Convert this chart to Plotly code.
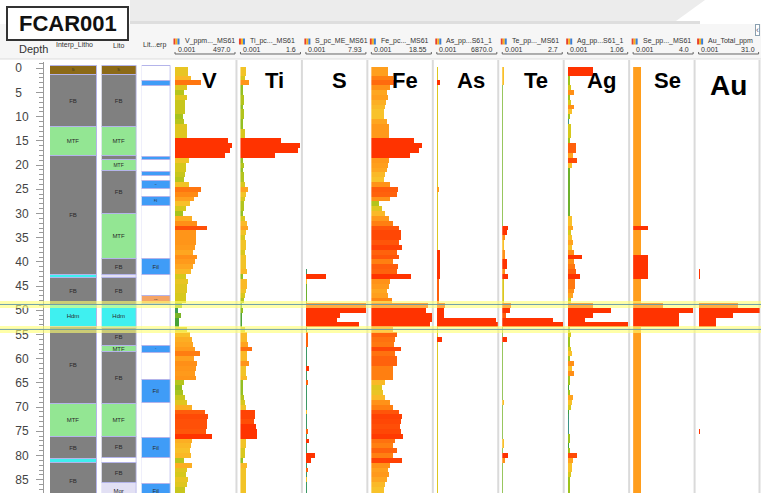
import plotly.graph_objects as go

W, H = 761, 501


def px(x):
    return x / W


def py(y):
    return 1 - y / H


# ---------------- data ----------------
DEPTH_FROM = [
    -0.3, 1.5, 2.5, 3.5, 4.5, 5.5, 6.5, 7.5, 8.5, 9.5,
    10.5, 11.5, 12.5, 13.5, 14.5, 15.5, 16.5, 17.5, 18.5, 19.5,
    20.5, 21.5, 22.5, 23.5, 24.5, 25.5, 26.5, 27.5, 28.5, 29.5,
    30.5, 31.5, 32.5, 33.5, 34.5, 35.5, 36.5, 37.5, 38.5, 39.5,
    40.5, 41.5, 42.5, 43.5, 44.5, 45.5, 46.5, 47.5, 48.5, 49.5,
    50.5, 51.5, 52.5, 53.5, 54.5, 55.5, 56.5, 57.5, 58.5, 59.5,
    60.5, 61.5, 62.5, 63.5, 64.5, 65.5, 66.5, 67.5, 68.5, 69.5,
    70.5, 71.5, 72.5, 73.5, 74.5, 75.5, 76.5, 77.5, 78.5, 79.5,
    80.5, 81.5, 82.5, 83.5, 84.5, 85.5, 86.5, 87.5]
DEPTH_TO = [
    1.5, 2.5, 3.5, 4.5, 5.5, 6.5, 7.5, 8.5, 9.5, 10.5,
    11.5, 12.5, 13.5, 14.5, 15.5, 16.5, 17.5, 18.5, 19.5, 20.5,
    21.5, 22.5, 23.5, 24.5, 25.5, 26.5, 27.5, 28.5, 29.5, 30.5,
    31.5, 32.5, 33.5, 34.5, 35.5, 36.5, 37.5, 38.5, 39.5, 40.5,
    41.5, 42.5, 43.5, 44.5, 45.5, 46.5, 47.5, 48.5, 49.5, 50.5,
    51.5, 52.5, 53.5, 54.5, 55.5, 56.5, 57.5, 58.5, 59.5, 60.5,
    61.5, 62.5, 63.5, 64.5, 65.5, 66.5, 67.5, 68.5, 69.5, 70.5,
    71.5, 72.5, 73.5, 74.5, 75.5, 76.5, 77.5, 78.5, 79.5, 80.5,
    81.5, 82.5, 83.5, 84.5, 85.5, 86.5, 87.5, 88.5]

V_PPM = [
    106, 130, 212, 98, 73, 98, 82, 82, 82, 65,
    73, 98, 98, 98, 432, 465, 448, 408, 114, 90,
    90, 82, 73, 114, 212, 187, 155, 122, 90, 65,
    139, 179, 261, 171, 171, 171, 163, 147, 179, 163,
    147, 130, 90, 106, 98, 98, 90, 90, 57, 24,
    49, 33, 33, 98, 122, 139, 147, 163, 204, 155,
    179, 171, 163, 171, 73, 57, 65, 82, 98, 139,
    245, 269, 261, 261, 253, 302, 139, 130, 122, 130,
    73, 139, 98, 90, 106, 98, 82, 82]
TI_PCT = [
    0.16, 0.13, 0.24, 0.08, 0.08, 0.10, 0.10, 0.08, 0.10, 0.10,
    0.08, 0.08, 0.13, 0.13, 1.07, 1.57, 1.52, 0.92, 0.08, 0.10,
    0.08, 0.10, 0.10, 0.13, 0.21, 0.16, 0.13, 0.10, 0.10, 0.08,
    0.13, 0.18, 0.21, 0.16, 0.13, 0.16, 0.16, 0.13, 0.16, 0.16,
    0.16, 0.18, 0.08, 0.18, 0.18, 0.16, 0.13, 0.10, 0.05, 0.08,
    0.05, 0.05, 0.05, 0.13, 0.18, 0.18, 0.21, 0.31, 0.18, 0.18,
    0.24, 0.16, 0.16, 0.18, 0.08, 0.08, 0.08, 0.10, 0.13, 0.16,
    0.39, 0.39, 0.37, 0.42, 0.45, 0.45, 0.16, 0.16, 0.13, 0.13,
    0.08, 0.18, 0.16, 0.16, 0.16, 0.16, 0.16, 0.16]
S_PCT = [
    0, 0, 0, 0, 0, 0, 0, 0, 0, 0,
    0, 0, 0, 0, 0, 0, 0, 0, 0, 0,
    0, 0, 0, 0, 0, 0, 0, 0, 0, 0,
    0, 0, 0, 0, 0, 0, 0, 0, 0, 0,
    0, 0.02, 2.6, 0.13, 0.05, 0.05, 0.05, 0.05, 7.8, 7.8,
    4.42, 4.03, 6.89, 0.02, 0.26, 0.26, 0.26, 0.02, 0.02, 0.02,
    0.02, 0.39, 0.02, 0.02, 0.26, 0.02, 0.02, 0.02, 0.02, 0.02,
    0.13, 0.02, 0.02, 0.02, 0.26, 0.02, 0.39, 0.02, 0.02, 1.17,
    0.65, 0.02, 0.26, 0.02, 0.13, 0.02, 0.02, 0.02]
FE_PCT = [
    5.2, 6.7, 7.6, 5.8, 4.9, 5.2, 4.6, 4.3, 4.0, 4.0,
    4.9, 5.5, 5.5, 5.5, 13.1, 15.5, 14.6, 11.9, 5.5, 5.2,
    4.9, 4.3, 4.0, 5.8, 8.2, 7.9, 5.8, 2.4, 3.3, 4.3,
    5.5, 6.7, 8.5, 9.1, 9.1, 8.5, 9.4, 7.9, 8.5, 6.7,
    8.2, 7.9, 12.2, 5.8, 5.5, 4.9, 5.2, 6.4, 17.3, 16.7,
    18.5, 18.5, 17.9, 6.7, 7.9, 7.3, 7.0, 9.1, 7.3, 7.9,
    7.9, 6.7, 6.7, 6.7, 4.3, 3.3, 3.6, 4.3, 5.8, 6.7,
    8.5, 9.4, 9.1, 8.8, 9.1, 9.7, 7.3, 6.7, 7.9, 6.7,
    9.4, 5.8, 5.2, 5.5, 4.9, 4.3, 4.0, 4.0]
AS_PPM = [
    90, 90, 338, 90, 90, 90, 90, 90, 90, 90,
    90, 90, 90, 90, 90, 90, 90, 90, 90, 90,
    90, 90, 90, 90, 150, 90, 90, 90, 90, 90,
    90, 90, 90, 90, 90, 90, 90, 338, 338, 338,
    338, 338, 338, 225, 225, 225, 225, 225, 935, 822,
    822, 6680, 6820, 90, 90, 563, 90, 90, 90, 90,
    90, 90, 90, 90, 90, 90, 90, 90, 90, 90,
    90, 90, 90, 90, 90, 90, 90, 90, 90, 90,
    90, 90, 90, 90, 90, 90, 90, 90]
TE_PPM = [
    0.09, 0.09, 0.09, 0.035, 0.035, 0.035, 0.035, 0.035, 0.035, 0.035,
    0.035, 0.035, 0.035, 0.035, 0.035, 0.035, 0.035, 0.035, 0.035, 0.035,
    0.035, 0.035, 0.035, 0.035, 0.035, 0.035, 0.035, 0.035, 0.035, 0.035,
    0.035, 0.035, 0.27, 0.22, 0.13, 0.09, 0.09, 0.13, 0.13, 0.22,
    0.22, 0.13, 0.27, 0.07, 0.07, 0.07, 0.07, 0.07, 0.40, 0.35,
    0.18, 2.26, 2.70, 0.035, 0.035, 0.22, 0.035, 0.035, 0.035, 0.035,
    0.035, 0.035, 0.035, 0.035, 0.035, 0.035, 0.035, 0.035, 0.09, 0.035,
    0.035, 0.035, 0.035, 0.035, 0.035, 0.035, 0.09, 0.09, 0.035, 0.27,
    0.13, 0.035, 0.035, 0.035, 0.035, 0.035, 0.035, 0.035]
AG_PPM = [
    0.43, 0.035, 0.035, 0.052, 0.104, 0.035, 0.052, 0.104, 0.07, 0.035,
    0.005, 0.052, 0.052, 0.052, 0.035, 0.139, 0.139, 0.087, 0.156, 0.07,
    0.026, 0.026, 0.026, 0.026, 0.026, 0.026, 0.026, 0.026, 0.026, 0.026,
    0.07, 0.07, 0.087, 0.052, 0.07, 0.087, 0.07, 0.104, 0.243, 0.104,
    0.122, 0.139, 0.209, 0.122, 0.122, 0.104, 0.087, 0.052, 0.43, 0.75,
    0.43, 0.30, 1.04, 0.035, 0.052, 0.035, 0.035, 0.052, 0.07, 0.035,
    0.104, 0.07, 0.104, 0.035, 0.035, 0.017, 0.035, 0.087, 0.07, 0.052,
    0.017, 0.009, 0.005, 0.005, 0.005, 0.035, 0.035, 0.017, 0.035, 0.156,
    0.087, 0.07, 0.07, 0.052, 0.035, 0.035, 0.035, 0.035]
SE_PPM = [
    0.52, 0.52, 0.52, 0.52, 0.52, 0.52, 0.52, 0.52, 0.52, 0.52,
    0.52, 0.52, 0.52, 0.52, 0.52, 0.52, 0.52, 0.52, 0.52, 0.52,
    0.52, 0.52, 0.52, 0.52, 0.52, 0.52, 0.52, 0.52, 0.52, 0.52,
    0.52, 0.52, 0.98, 0.52, 0.52, 0.52, 0.52, 0.52, 0.98, 0.98,
    0.98, 0.98, 0.98, 0.52, 0.52, 0.52, 0.52, 0.52, 1.97, 3.94,
    3.02, 3.02, 3.02, 0.52, 0.52, 0.52, 0.52, 0.52, 0.52, 0.52,
    0.52, 0.52, 0.52, 0.52, 0.52, 0.52, 0.52, 0.52, 0.52, 0.52,
    0.52, 0.52, 0.52, 0.52, 0.52, 0.52, 0.52, 0.52, 0.52, 0.52,
    0.52, 0.52, 0.52, 0.52, 0.52, 0.52, 0.52, 0.52]
AU_PPM = [
    0, 0, 0, 0, 0, 0, 0, 0, 0, 0,
    0, 0, 0, 0, 0, 0, 0, 0, 0, 0,
    0, 0, 0, 0, 0, 0, 0, 0, 0, 0,
    0, 0, 0, 0, 0, 0, 0, 0, 0, 0,
    0, 0.5, 0.5, 0, 0, 0, 0, 0, 20.0, 31.0,
    17.3, 8.6, 8.6, 0, 0, 0, 0, 0, 0, 0,
    0, 0, 0, 0, 0, 0, 0, 0, 0, 0,
    0, 0, 0, 0, 0.5, 0, 0, 0, 0, 0,
    0, 0, 0, 0, 0, 0, 0, 0]

TRACK_NAMES = ["V", "Ti", "S", "Fe", "As", "Te", "Ag", "Se", "Au"]
TRACK_FIELDS = ["V_ppm..._MS61", "Ti_pc..._MS61", "S_pc_ME_MS61", "Fe_pc..._MS61",
                "As_pp...S61_1", "Te_pp..._MS61", "Ag_pp...S61_1", "Se_pp..._MS61",
                "Au_Total_ppm"]
TRACK_VALUES = [V_PPM, TI_PCT, S_PCT, FE_PCT, AS_PPM, TE_PPM, AG_PPM, SE_PPM, AU_PPM]
TRACK_MIN_LABEL = "0.001"
TRACK_MAX = [497.0, 1.6, 7.93, 18.55, 6870.0, 2.7, 1.06, 4.0, 31.0]
TRACK_MAX_LABEL = ["497.0", "1.6", "7.93", "18.55", "6870.0", "2.7", "1.06", "4.0", "31.0"]

INTERP_FROM = [-0.4, 1.4, 12.2, 18.2, 42.8, 43.4, 48.9, 53.5, 69.3, 76.2, 80.7, 81.5]
INTERP_TO = [1.4, 12.2, 18.2, 42.8, 43.4, 48.9, 53.5, 69.3, 76.2, 80.7, 81.5, 89.0]
INTERP_CODE = ["Si", "FB", "MTF", "FB", "Hdm", "FB", "Hdm", "FB", "MTF", "FB", "Hdm", "FB"]

LITO_FROM = [-0.4, 1.4, 12.2, 18.1, 19.0, 21.3, 30.1, 39.3, 42.8, 43.3, 48.9, 53.6,
             57.4, 58.7, 69.3, 76.2, 80.6, 81.5, 85.7]
LITO_TO = [1.4, 12.2, 18.1, 19.0, 21.3, 30.1, 39.3, 42.8, 43.3, 48.9, 53.6, 57.4,
           58.7, 69.3, 76.2, 80.6, 81.5, 85.7, 89.0]
LITO_CODE = ["Si", "FB", "MTF", "FB", "MTF", "FB", "MTF", "FB", "Mgr", "FB", "Hdm", "FB",
             "MTF", "FB", "MTF", "FB", "", "FB", "Mgr"]

LITERP_FROM = [-0.4, 2.6, 3.7, 18.3, 18.9, 21.5, 22.3, 23.2, 25.0, 26.5, 28.4, 39.4,
               42.8, 47.0, 48.6, 57.4, 58.9, 64.3, 69.2, 76.3, 80.6, 85.8]
LITERP_TO = [2.6, 3.7, 18.3, 18.9, 21.5, 22.3, 23.2, 25.0, 26.5, 28.4, 39.4, 42.8,
             47.0, 48.6, 57.4, 58.9, 64.3, 69.2, 76.3, 80.6, 85.8, 89.0]
LITERP_CODE = ["", "Fil", "", "Fil", "", "Fil", "", "Fil", "", "Fil", "", "Fil",
               "", "FilS", "", "Fil", "", "Fil", "", "Fil", "", "Fil"]

HIGHLIGHT_DEPTHS = [48.8, 53.95]
DEPTH_TICK_STEP = 5

# ---------------- style ----------------
LITH_COLORS = {"Si": "#8c6a17", "FB": "#808080", "MTF": "#93e693", "Hdm": "#3ff0f0",
               "Mgr": "#e2e0f4", "": "#ffffff", "Fil": "#3f9cf7", "FilS": "#f5a466"}
COLORSCALE = [[0.0, "#3b8fa8"], [0.1, "#3e9e3a"], [0.2, "#9cc21e"], [0.3, "#d6c81c"],
              [0.4, "#f8c22a"], [0.5, "#ffa31f"], [0.65, "#ff8412"], [0.8, "#ff600c"],
              [1.0, "#ff3300"]]
TRACK_CMAX = [300, 0.42, 0.33, 10.0, 281, 0.22, 0.174, 0.98, 0.5]
FONT = "Arial, Liberation Sans, sans-serif"

Y_TOP_PX, Y_BOT_PX = 62, 493
TRACK_X0, TRACK_STEP, TRACK_W = 175.0, 65.45, 61.0
LITH_COLS = [(50, 97), (101.7, 136.7), (141.7, 170.7)]

fig = go.Figure()
layout = dict(
    width=W, height=H, margin=dict(l=0, r=0, t=0, b=0),
    paper_bgcolor="white", plot_bgcolor="rgba(0,0,0,0)", showlegend=False,
    font=dict(family=FONT, color="#333"), bargap=0,
)

ydom = [py(Y_BOT_PX), py(Y_TOP_PX)]
layout["yaxis"] = dict(
    domain=ydom, range=[87.75, -1.3], anchor="free", position=px(43), side="left",
    showline=True, linecolor="#9a9a9a", linewidth=1,
    ticks="outside", ticklen=7, tickcolor="#9a9a9a", tickwidth=1,
    tickmode="linear", tick0=0, dtick=DEPTH_TICK_STEP,
    labelalias={"0": "0\u2007", "5": "5\u2007"},
    minor=dict(ticks="outside", ticklen=4, dtick=1, tick0=0, tickcolor="#9a9a9a", showgrid=False),
    showgrid=False, zeroline=False, ticklabelstandoff=5,
    tickfont=dict(size=12, color="#444", family=FONT), fixedrange=True,
)

axis_idx = 0


def next_axis():
    global axis_idx
    axis_idx += 1
    return ("x" if axis_idx == 1 else "x%d" % axis_idx), ("xaxis" if axis_idx == 1 else "xaxis%d" % axis_idx)


def hidden_x(domain, rng):
    return dict(domain=domain, range=rng, anchor="y", visible=False, fixedrange=True)


# lithology columns
for (xa, xb), froms, tos, codes in zip(
        LITH_COLS,
        [INTERP_FROM, LITO_FROM, LITERP_FROM],
        [INTERP_TO, LITO_TO, LITERP_TO],
        [INTERP_CODE, LITO_CODE, LITERP_CODE]):
    xref, xkey = next_axis()
    layout[xkey] = hidden_x([px(xa), px(xb)], [0, 1])
    centers = [(f + t) / 2 for f, t in zip(froms, tos)]
    widths = [t - f for f, t in zip(froms, tos)]
    texts = [c if (t - f) > 1.15 else "" for f, t, c in zip(froms, tos, codes)]
    fig.add_trace(go.Bar(
        x=[1] * len(centers), y=centers, width=widths, base=0, orientation="h",
        marker=dict(color=[LITH_COLORS[c] for c in codes], line=dict(color="#b4b4ea", width=1)),
        text=texts, textposition="inside", insidetextanchor="middle", textangle=0,
        textfont=dict(size=6, color="#2a2a2a", family=FONT),
        xaxis=xref, yaxis="y", hoverinfo="skip"))

# geochemistry tracks
centers = [(f + t) / 2 for f, t in zip(DEPTH_FROM, DEPTH_TO)]
widths = [t - f for f, t in zip(DEPTH_FROM, DEPTH_TO)]
for i, vals in enumerate(TRACK_VALUES):
    x0 = TRACK_X0 + TRACK_STEP * i
    xref, xkey = next_axis()
    layout[xkey] = hidden_x([px(x0), px(min(x0 + TRACK_W, W))], [0, TRACK_MAX[i]])
    fig.add_trace(go.Bar(
        x=vals, y=centers, width=widths, base=0, orientation="h",
        marker=dict(color=vals, colorscale=COLORSCALE, cmin=0, cmax=TRACK_CMAX[i],
                    line=dict(width=0)),
        xaxis=xref, yaxis="y", hoverinfo="skip"))

shapes = []
annotations = []


def note(text, x, y, size, xanchor="center", color="#333", **kw):
    d = dict(text=text, x=px(x), y=py(y), xref="paper", yref="paper", showarrow=False,
             xanchor=xanchor, yanchor="middle", font=dict(size=size, color=color, family=FONT))
    d.update(kw)
    annotations.append(d)


# slide-like background at top
shapes.append(dict(type="path", xref="paper", yref="paper", layer="below",
                   path="M %f %f L %f %f L %f %f L %f %f Z" % (px(130), py(0), px(705), py(0), px(676), py(21), px(130), py(21)),
                   fillcolor="#ececec", line=dict(width=0)))
shapes.append(dict(type="rect", xref="paper", yref="paper", layer="below",
                   x0=px(130), x1=px(700), y0=py(24), y1=py(21), fillcolor="#dedede", line=dict(width=0)))
shapes.append(dict(type="rect", xref="paper", yref="paper", layer="below",
                   x0=0, x1=1, y0=py(59), y1=py(24), fillcolor="#f6f6f6", line=dict(width=0)))
shapes.append(dict(type="line", xref="paper", yref="paper", layer="below",
                   x0=0, x1=1, y0=py(59), y1=py(59), line=dict(color="#dddddd", width=1)))

# title box
shapes.append(dict(type="rect", xref="paper", yref="paper", layer="above",
                   x0=px(7), x1=px(128), y0=py(40), y1=py(7), fillcolor="white",
                   line=dict(color="#333", width=2)))
note("<b>FCAR001</b>", 67.5, 23.5, 22, color="#111")
note("\u2039", 757, 30, 9, color="#557", bordercolor="#8aa0b0", borderwidth=1, borderpad=0,
     bgcolor="white")

# column headers
note("Depth", 17, 48.5, 11, xanchor="left")
for txt, cx in [("Interp_Litho", 74), ("Lito", 119), ("Lit...erp", 154)]:
    note(txt, cx, 45, 7)

ICON_COLORS = ["#e8412c", "#f7b21d", "#3a7ed6"]
for i, name in enumerate(TRACK_NAMES):
    x0 = TRACK_X0 + TRACK_STEP * i
    sx = x0 + TRACK_STEP - 4.0
    shapes.append(dict(type="line", xref="paper", yref="paper", layer="below",
                       x0=px(min(sx, 759.5)), x1=px(min(sx, 759.5)), y0=py(Y_BOT_PX), y1=py(60),
                       line=dict(color="#dadada", width=2)))
    for k, c in enumerate(ICON_COLORS):
        shapes.append(dict(type="rect", xref="paper", yref="paper", layer="above",
                           x0=px(x0 - 1.5 + 2 * k), x1=px(x0 + 0.5 + 2 * k), y0=py(44.5), y1=py(38.5),
                           fillcolor=c, line=dict(width=0)))
    note(TRACK_FIELDS[i], x0 + 7.5, 41, 7, xanchor="left")
    note(TRACK_MIN_LABEL, x0 + 0.5, 50, 7, xanchor="left")
    note(TRACK_MAX_LABEL[i], x0 + 58, 50, 7, xanchor="right")
    shapes.append(dict(type="path", xref="paper", yref="paper", layer="above",
                       path="M %f %f L %f %f L %f %f L %f %f" % (px(x0), py(52), px(x0), py(54),
                                                                 px(x0 + 60), py(54), px(x0 + 60), py(52)),
                       line=dict(color="#666", width=1)))
    if name == "Au":
        note("<b>Au</b>", x0 + 30, 86, 28, color="#000")
    else:
        note("<b>%s</b>" % name, x0 + 34, 80.5, 22, color="#000")

# highlighted interval boundaries
for d in HIGHLIGHT_DEPTHS:
    shapes.append(dict(type="line", xref="paper", yref="y", layer="above", x0=0, x1=1, y0=d, y1=d,
                       line=dict(color="rgba(255,255,110,0.6)", width=7)))
    shapes.append(dict(type="line", xref="paper", yref="y", layer="above", x0=0, x1=1, y0=d, y1=d,
                       line=dict(color="rgba(95,150,170,0.9)", width=1)))

layout["shapes"] = shapes
layout["annotations"] = annotations
fig.update_layout(**layout)
fig.write_html("out.html", config={"displayModeBar": False},
               post_script="document.body.style.margin='0px';document.body.style.overflow='hidden';")
